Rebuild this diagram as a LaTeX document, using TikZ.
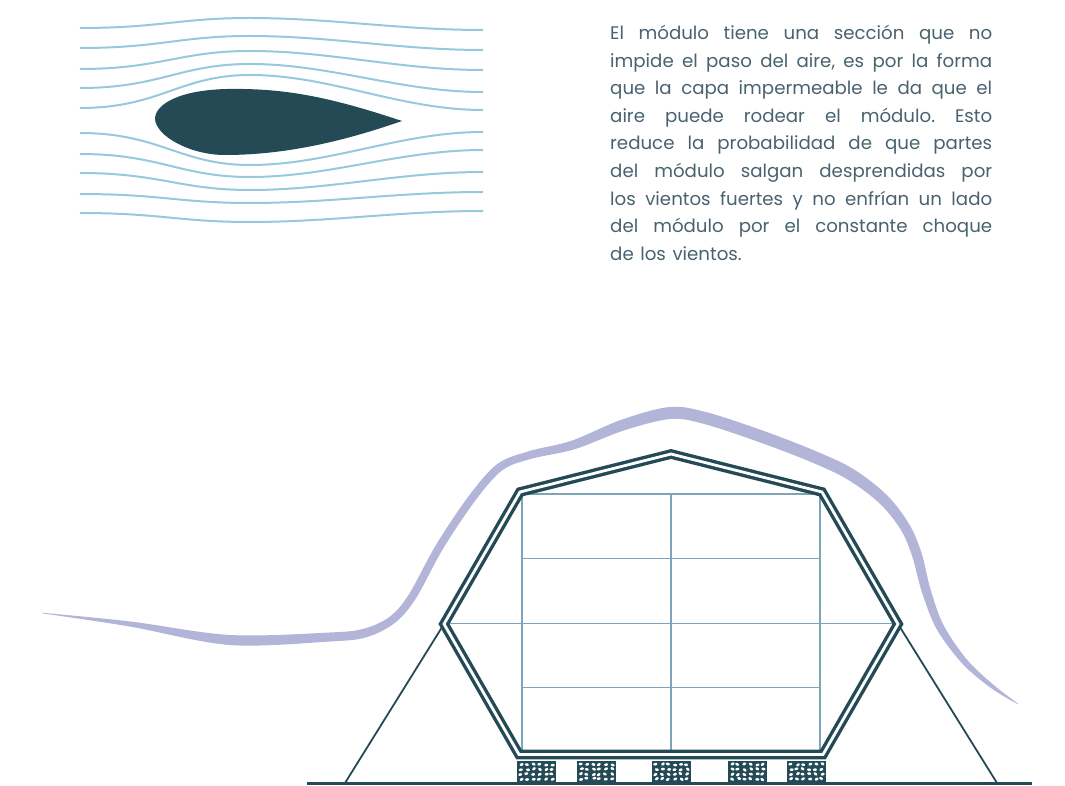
\documentclass[tikz,border=0pt]{standalone}
\usepackage{fontspec}
\setmainfont{Poppins}[WordSpace=1.35]
\usetikzlibrary{fadings}
\definecolor{deepteal}{RGB}{36,74,86}
\definecolor{windblue}{RGB}{150,200,222}
\definecolor{lilac}{RGB}{179,181,216}
\definecolor{gridblue}{RGB}{125,165,185}
\definecolor{bodytext}{RGB}{72,98,110}
% soft ends for the streamlines
\pgfdeclarehorizontalshading{streamendsh}{100bp}{color(0bp)=(pgftransparent!100); color(7bp)=(pgftransparent!0); color(93bp)=(pgftransparent!0); color(100bp)=(pgftransparent!100)}
\pgfdeclarefading{streamends}{\pgfuseshading{streamendsh}}
\tikzset{
  stream/.style={draw=windblue, line width=2pt, path fading=streamends},
  shell/.style={draw=deepteal, line width=3.4pt, double=white, double distance=2.8pt, line join=miter},
  frame/.style={draw=gridblue, line width=1.2pt},
  leg/.style={draw=deepteal, line width=1.8pt},
  ground/.style={draw=deepteal, line width=3.5pt},
  gravel/.style={fill=deepteal},
  para/.style={anchor=north west, text width=382pt, align=justify, inner sep=0pt, text=bodytext,
               font=\fontsize{18.2}{27.6}\selectfont\frenchspacing}
}
\begin{document}
\begin{tikzpicture}[x=1pt, y=-1pt]
\useasboundingbox (0,0) rectangle (1065,786);

% ---- streamlines around the teardrop section ----
\foreach \yl/\yp/\yr in {28/18/30, 48/36/50, 69/51/70, 88/64/92, 108/75/110,
                         133/165/132, 154/177/150, 173/190/172, 194/203/192, 213/222/211}{
  \path[stream] (80,\yl) .. controls (160,\yl) and (180,\yp) .. (250,\yp)
                .. controls (330,\yp) and (400,\yr) .. (483,\yr);
}
\fill[deepteal] (402,121) .. controls (330,97) and (285,88) .. (227,89)
  .. controls (180,90) and (155,104) .. (155,119)
  .. controls (156,136) and (190,155) .. (225,155)
  .. controls (290,155) and (350,139) .. (402,121) -- cycle;

% ---- description ----
\node[para] (desc) at (610,25) {El módulo tiene una sección que no\linebreak
impide el paso del aire, es por la forma\linebreak
que la capa impermeable le da que el\linebreak
aire puede rodear el módulo. Esto\linebreak
reduce la probabilidad de que partes\linebreak
del módulo salgan desprendidas por\linebreak
los vientos fuertes y no enfrían un lado\linebreak
del módulo por el constante choque\linebreak
de los vientos.};

% ---- air flowing over the module ----
\fill[lilac] plot[smooth, tension=0.55] coordinates {
  (42,612.7) (130.4,621.5) (230.3,635) (329.8,632.5) (363.8,628.7) (389.6,616.8)
  (408.6,594.8) (436.6,543.9) (469.8,494.6) (497.6,463.8) (528.8,451.2) (571.6,440.7)
  (621.3,419.8) (669.5,407) (706.5,412.2) (762,430.3) (814.3,450.5) (853.1,468.9)
  (886.8,495) (909.3,524.4) (921.7,553.4) (930.3,588.6) (943.5,625.1) (967.3,660)
  (994.2,685.4) (1018.2,703.8)}
  -- plot[smooth, tension=0.55] coordinates {
  (1017.8,704.2) (991.8,688.6) (962.7,664) (936.5,628.9) (921.7,591.4) (912.3,556.6)
  (900.7,529.6) (879.2,503) (846.9,479.1) (809.7,461.5) (758,441.7) (703.5,423.8)
  (670.5,419) (624.7,430.2) (574.4,449.3) (531.2,458.8) (502.4,470.2) (476.2,499.4)
  (443.4,548.1) (415.4,599.2) (394.4,623.2) (366.2,637.3) (330.2,641.5) (229.7,645)
  (129.6,626.5) (42,613.3)} -- cycle;

% ---- module: key points ----
\coordinate (top) at (671,454);
\coordinate (ul) at (520,492);
\coordinate (ur) at (822,492);
\coordinate (lv) at (444,624);
\coordinate (rv) at (898,624);
\coordinate (bl) at (519,754.5);
\coordinate (br) at (823,754.5);
\coordinate (lfoot) at (345,783);
\coordinate (rfoot) at (997,783);
\coordinate (g1) at (307,783.5);
\coordinate (g2) at (1032,783.5);

% inner frame
\foreach \x in {522,671,820} \draw[frame] (\x,494) -- (\x,752);
\foreach \y in {494,558.5,687.5,752} \draw[frame] (522,\y) -- (820,\y);
\draw[frame] (450,623.3) -- (892,623.3);

% support legs
\draw[leg] (lv) -- (lfoot);
\draw[leg] (rv) -- (rfoot);

% waterproof shell
\draw[shell] (top) -- (ur) -- (rv) -- (br) -- (bl) -- (lv) -- (ul) -- cycle;

% gravel footings
\pgfmathsetseed{11}
\foreach \bx in {517,577,652,728,787}{
  \fill[gravel] (\bx,761) rectangle ++(38.5,21);
  \foreach \r in {0,...,3}{
    \foreach \c in {0,...,5}{
      \pgfmathsetmacro\jx{\bx+4+\c*6.2+1.0*rand}
      \pgfmathsetmacro\jy{764.5+\r*4.8+0.7*rand}
      \pgfmathsetmacro\ang{40*rand}
      \fill[white, rotate around={\ang:(\jx,\jy)}] (\jx,\jy) ellipse (2.0 and 1.35);
    }
  }
}

% ground
\draw[ground] (g1) -- (g2);
\end{tikzpicture}
\end{document}
